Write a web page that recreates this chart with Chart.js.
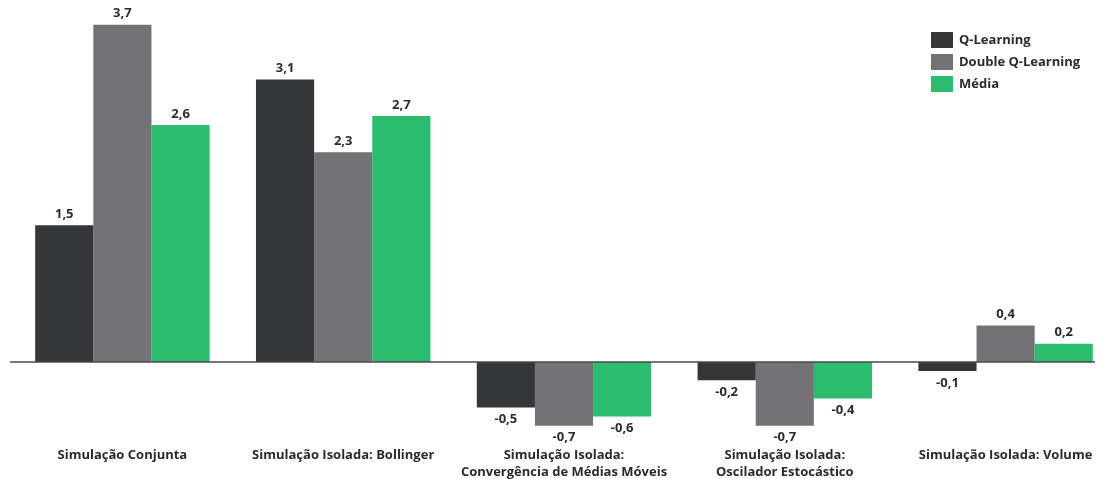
<!DOCTYPE html>
<html>
<head>
<meta charset="utf-8">
<script src="https://cdn.jsdelivr.net/npm/chart.js@4/dist/chart.umd.min.js"></script>
<style>
  html, body { margin: 0; padding: 0; background: #fff; overflow: hidden; }
  #wrap { position: relative; width: 1118px; height: 484px; }
</style>
</head>
<body>
<div id="wrap"><canvas id="grafico"></canvas></div>
<script>
const categorias = [
    'Simulação Conjunta',
    'Simulação Isolada: Bollinger',
    ['Simulação Isolada:', 'Convergência de Médias Móveis'],
    ['Simulação Isolada:', 'Oscilador Estocástico'],
    'Simulação Isolada: Volume'
];
const qLearning = [1.5, 3.1, -0.5, -0.2, -0.1];
const doubleQLearning = [3.7, 2.3, -0.7, -0.7, 0.4];
const media = [2.6, 2.7, -0.6, -0.4, 0.2];

const fonte = '"Open Sans", "Noto Sans", sans-serif';
const corTexto = '#2b2b2b';

function formatar(v) {
    return v.toFixed(1).replace('.', ',');
}

// rótulos de valor acima/abaixo das barras
const rotulos = {
    id: 'rotulos',
    afterDatasetsDraw(chart) {
        const ctx = chart.ctx;
        ctx.save();
        ctx.font = 'bold 13px ' + fonte;
        ctx.fillStyle = corTexto;
        ctx.textAlign = 'center';
        ctx.textBaseline = 'middle';
        chart.data.datasets.forEach((ds, i) => {
            chart.getDatasetMeta(i).data.forEach((bar, j) => {
                const v = ds.data[j];
                const y = v >= 0 ? bar.y - 11 : bar.y + 12;
                ctx.fillText(formatar(v), bar.x, y);
            });
        });
        // linha do zero
        const y0 = chart.scales.y.getPixelForValue(0);
        ctx.strokeStyle = '#4a4a4a';
        ctx.lineWidth = 1.5;
        ctx.beginPath();
        ctx.moveTo(10, y0);
        ctx.lineTo(1095, y0);
        ctx.stroke();
        ctx.restore();
    }
};

// legenda no canto superior direito
const legenda = {
    id: 'legenda',
    afterDraw(chart) {
        const ctx = chart.ctx;
        ctx.save();
        ctx.font = 'bold 13px ' + fonte;
        ctx.textBaseline = 'middle';
        ctx.textAlign = 'left';
        chart.data.datasets.forEach((ds, i) => {
            const y = 40 + i * 22;
            ctx.fillStyle = ds.backgroundColor;
            ctx.fillRect(931, y - 8, 22, 16);
            ctx.fillStyle = corTexto;
            ctx.fillText(ds.label, 959, y);
        });
        ctx.restore();
    }
};

new Chart(document.getElementById('grafico'), {
    type: 'bar',
    data: {
        labels: categorias,
        datasets: [
            { label: 'Q-Learning', data: qLearning, backgroundColor: '#353638' },
            { label: 'Double Q-Learning', data: doubleQLearning, backgroundColor: '#737377' },
            { label: 'Média', data: media, backgroundColor: '#2bbc6f' }
        ]
    },
    options: {
        responsive: true,
        maintainAspectRatio: false,
        animation: false,
        layout: { padding: { left: 12, right: 2, top: 2, bottom: 0 } },
        datasets: {
            bar: { categoryPercentage: 0.79, barPercentage: 1.0, borderWidth: 0 }
        },
        scales: {
            x: {
                grid: { display: false, drawTicks: false },
                border: { display: false },
                ticks: {
                    color: corTexto,
                    padding: 3,
                    maxRotation: 0,
                    autoSkip: false,
                    font: { family: fonte, size: 13, weight: 'bold', lineHeight: 1.31 }
                }
            },
            y: {
                display: false,
                min: -0.9,
                max: 3.95
            }
        },
        plugins: {
            legend: { display: false },
            tooltip: { enabled: false }
        }
    },
    plugins: [rotulos, legenda]
});
</script>
</body>
</html>
